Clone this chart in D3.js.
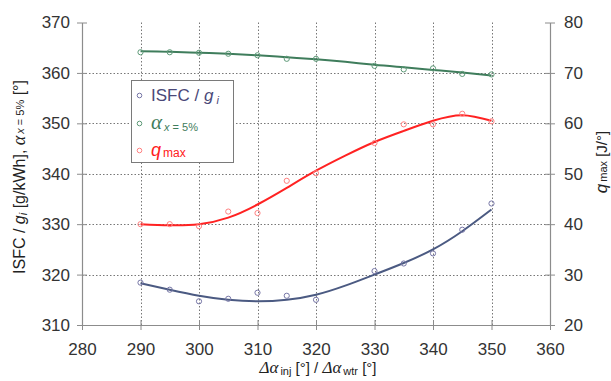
<!DOCTYPE html>
<html>
<head>
<meta charset="utf-8">
<script src="https://cdn.jsdelivr.net/npm/d3@7"></script>
<style>
  html, body { margin: 0; padding: 0; background: #fff; }
  svg { display: block; }
  text { font-family: "Liberation Sans", Arial, sans-serif; }
</style>
</head>
<body>
<svg id="chart" width="611" height="381"></svg>
<script>
// Crank angle (x) of each measurement
const angle = [290, 295, 300, 305, 310, 315, 320, 330, 335, 340, 345, 350];
// Measured values
const isfc   = [318.4, 317.0, 314.7, 315.2, 316.4, 315.8, 315.0, 320.7, 322.2, 324.2, 328.9, 334.1];
const alphaX = [364.1, 364.1, 364.0, 363.8, 363.5, 362.8, 362.8, 361.4, 360.7, 360.9, 359.8, 359.7];
const qmax   = [40.0, 40.0, 39.6, 42.5, 42.2, 48.6, 50.1, 56.1, 59.8, 59.8, 61.9, 60.4];

// Trend lines (polynomial fits), sampled every 5°
const trendAngle = [290, 295, 300, 305, 310, 315, 320, 325, 330, 335, 340, 345, 350];
const isfcTrend  = [318.3, 317.0, 315.8, 315.0, 314.7, 315.0, 316.0, 317.8, 320.0, 322.3, 325.0, 328.6, 332.9];
const alphaTrend = [364.3, 364.2, 364.0, 363.8, 363.5, 363.1, 362.7, 362.2, 361.6, 361.1, 360.6, 360.1, 359.5];
const qmaxTrend  = [40.0, 39.8, 40.0, 41.3, 43.9, 47.2, 50.6, 53.6, 56.3, 58.5, 60.5, 61.6, 60.5];

// Axis ticks
const xTicks = [280, 290, 300, 310, 320, 330, 340, 350, 360];
const yLeftTicks = [310, 320, 330, 340, 350, 360, 370];
const yRightTicks = [20, 30, 40, 50, 60, 70, 80];

const svg = d3.select("#chart");
const plot = { left: 82, right: 550, top: 22.5, bottom: 325 };

const x  = d3.scaleLinear().domain([280, 360]).range([plot.left, plot.right]);
const yL = d3.scaleLinear().domain([310, 370]).range([plot.bottom, plot.top]);
const yR = d3.scaleLinear().domain([20, 80]).range([plot.bottom, plot.top]);

const colors = {
  isfcLine: "#4b5a82", isfcMark: "#7676a6", isfcText: "#4a4878",
  alphaLine: "#3f7d5c", alphaMark: "#5e9a78", alphaText: "#3f7d5c",
  qLine: "#ff2222", qMark: "#ff8080", qText: "#ff2020"
};

// Dotted grid
const grid = svg.append("g").attr("stroke", "#777").attr("stroke-width", 1)
  .attr("stroke-dasharray", "1.5,2");
grid.selectAll("line.v").data(xTicks.filter(t => t > 280 && t < 360)).join("line")
  .attr("x1", d => Math.round(x(d)) + 0.5).attr("x2", d => Math.round(x(d)) + 0.5)
  .attr("y1", plot.top).attr("y2", plot.bottom);
grid.selectAll("line.h").data(yLeftTicks.filter(t => t > 310 && t < 370)).join("line")
  .attr("x1", plot.left).attr("x2", plot.right)
  .attr("y1", d => Math.round(yL(d)) + 0.5).attr("y2", d => Math.round(yL(d)) + 0.5);

// Axes with ticks crossing the axis line
function styleAxis(g) {
  g.select(".domain").attr("stroke", "#8c8c8c").attr("stroke-width", 1.2);
  g.selectAll(".tick line").attr("stroke", "#8c8c8c");
  g.selectAll(".tick text").attr("fill", "#333").attr("font-size", 17)
    .attr("font-family", "Liberation Sans, Arial, sans-serif");
}

const xAxis = svg.append("g").attr("transform", `translate(0,${plot.bottom})`)
  .call(d3.axisBottom(x).tickValues(xTicks).tickSize(5).tickSizeOuter(0).tickPadding(13));
styleAxis(xAxis);
xAxis.selectAll(".tick line").attr("y1", -5);

const yAxisL = svg.append("g").attr("transform", `translate(${plot.left},0)`)
  .call(d3.axisLeft(yL).tickValues(yLeftTicks).tickSize(5).tickSizeOuter(0).tickPadding(7));
styleAxis(yAxisL);
yAxisL.selectAll(".tick line").attr("x1", 5);

const yAxisR = svg.append("g").attr("transform", `translate(${plot.right},0)`)
  .call(d3.axisRight(yR).tickValues(yRightTicks).tickSize(5).tickSizeOuter(0).tickPadding(9));
styleAxis(yAxisR);
yAxisR.selectAll(".tick line").attr("x1", -5);

// Trend curves
function trend(values, yScale, color) {
  const line = d3.line()
    .x((d, i) => x(trendAngle[i]))
    .y(d => yScale(d))
    .curve(d3.curveNatural);
  svg.append("path").datum(values)
    .attr("fill", "none").attr("stroke", color).attr("stroke-width", 2)
    .attr("d", line);
}
trend(alphaTrend, yL, colors.alphaLine);
trend(qmaxTrend, yR, colors.qLine);
trend(isfcTrend, yL, colors.isfcLine);

// Measured points
function points(values, yScale, color) {
  svg.append("g").selectAll("circle").data(values).join("circle")
    .attr("cx", (d, i) => x(angle[i]))
    .attr("cy", d => yScale(d))
    .attr("r", 2.6)
    .attr("fill", "none").attr("stroke", color).attr("stroke-width", 1);
}
points(alphaX, yL, colors.alphaMark);
points(qmax, yR, colors.qMark);
points(isfc, yL, colors.isfcMark);

// Legend
const legend = svg.append("g");
legend.append("rect").attr("x", 131.5).attr("y", 80.5).attr("width", 102).attr("height", 82)
  .attr("fill", "#fff").attr("stroke", "#7a7a7a").attr("stroke-width", 1);
const rows = [
  { y: 95.5, mark: colors.isfcMark },
  { y: 123.5, mark: colors.alphaMark },
  { y: 150.5, mark: colors.qMark }
];
legend.selectAll("circle").data(rows).join("circle")
  .attr("cx", 139.5).attr("cy", d => d.y).attr("r", 2.3)
  .attr("fill", "none").attr("stroke", d => d.mark).attr("stroke-width", 1);

const t1 = legend.append("text").attr("x", 151).attr("y", 101).attr("font-size", 17).attr("fill", colors.isfcText);
t1.append("tspan").text("ISFC / ");
t1.append("tspan").attr("font-style", "italic").text("g");
t1.append("tspan").attr("font-style", "italic").attr("font-size", 11).attr("dx", 3).attr("dy", 3).text("i");

const t2 = legend.append("text").attr("x", 151).attr("y", 129).attr("fill", colors.alphaText);
t2.append("tspan").attr("font-family", "Liberation Serif, Times New Roman, serif")
  .attr("font-style", "italic").attr("font-size", 21).text("α");
t2.append("tspan").attr("font-size", 11).attr("dx", 2).attr("dy", 2).attr("font-style", "italic").text("x");
t2.append("tspan").attr("font-size", 11).text(" = 5%");

const t3 = legend.append("text").attr("x", 151).attr("y", 156).attr("fill", colors.qText);
t3.append("tspan").attr("font-style", "italic").attr("font-size", 18).text("q");
t3.append("tspan").attr("font-size", 12).attr("dx", 2).attr("dy", 1).text("max");

// Left axis title
const tl = svg.append("text")
  .attr("transform", "translate(25,177) rotate(-90)")
  .attr("text-anchor", "middle").attr("font-size", 16).attr("fill", "#222");
tl.append("tspan").text("ISFC / ");
tl.append("tspan").attr("font-style", "italic").text("g");
tl.append("tspan").attr("font-style", "italic").attr("font-size", 11).attr("dy", 2).text("i");
tl.append("tspan").attr("dy", -2).text(" [g/kWh],  ");
tl.append("tspan").attr("font-family", "Liberation Serif, Times New Roman, serif")
  .attr("font-style", "italic").attr("font-size", 18).text("α");
tl.append("tspan").attr("font-size", 11).attr("font-style", "italic").attr("dx", 2).attr("dy", -1).text("x");
tl.append("tspan").attr("font-size", 11).text(" = 5%");
tl.append("tspan").attr("dy", 1).text(" [°]");

// Right axis title
const tr = svg.append("text")
  .attr("transform", "translate(607,162) rotate(-90)")
  .attr("text-anchor", "middle").attr("font-size", 15).attr("fill", "#222");
tr.append("tspan").attr("font-style", "italic").attr("font-size", 17).text("q");
tr.append("tspan").attr("font-size", 11).attr("dx", 2).text("max");
tr.append("tspan").text(" [J/°]");

// Bottom axis title
const tb = svg.append("text")
  .attr("x", 318).attr("y", 373)
  .attr("text-anchor", "middle").attr("font-size", 15).attr("fill", "#222");
tb.append("tspan").attr("font-family", "Liberation Serif, Times New Roman, serif")
  .attr("font-style", "italic").attr("font-size", 17).text("Δα");
tb.append("tspan").attr("font-size", 11).attr("dx", 2).attr("dy", 2).text("inj");
tb.append("tspan").attr("dy", -2).text(" [°] / ");
tb.append("tspan").attr("font-family", "Liberation Serif, Times New Roman, serif")
  .attr("font-style", "italic").attr("font-size", 17).text("Δα");
tb.append("tspan").attr("font-size", 11).attr("dx", 2).attr("dy", 2).text("wtr");
tb.append("tspan").attr("dy", -2).text(" [°]");
</script>
</body>
</html>
